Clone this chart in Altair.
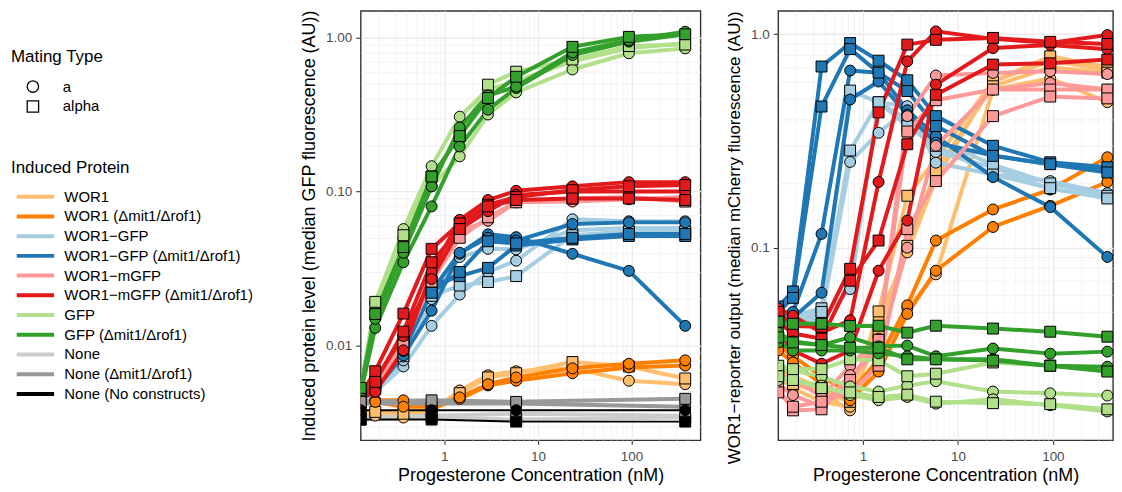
import altair as alt
import pandas as pd

N = None
# Progesterone concentrations (nM); first value sits on the left panel edge
CONC = [0.128, 0.183, 0.366, 0.732, 1.46, 2.93, 5.86, 23.4, 93.8, 375.0]

GROUPS = ["WOR1", "WOR1 (Δmit1/Δrof1)", "WOR1−GFP", "WOR1−GFP (Δmit1/Δrof1)",
          "WOR1−mGFP", "WOR1−mGFP (Δmit1/Δrof1)", "GFP", "GFP (Δmit1/Δrof1)",
          "None", "None (Δmit1/Δrof1)", "None (No constructs)"]
COLORS = ["#FDBF6F", "#FF7F00", "#A6CEE3", "#1F78B4", "#FB9A99", "#E31A1C",
          "#B2DF8A", "#33A02C", "#CCCCCC", "#999999", "#000000"]
MATING = ["a", "alpha"]

# ---------- Panel 1: induced protein level ----------
P1_WOR1 = {"a": [[0.0036, 0.0035, 0.0034, 0.0037, 0.0051, 0.0064, 0.0068, 0.0071, 0.0059, 0.0056]],
           "alpha": [[0.0037, 0.0037, 0.0036, 0.0038, 0.0049, 0.0062, 0.0066, 0.0078, 0.0073, 0.0061]]}
P1_WOR1_D = {"a": [[0.0043, 0.0044, 0.0044, 0.0039, 0.0045, 0.0055, 0.0059, 0.0066, 0.0072, 0.0074],
                   [0.0042, 0.0043, 0.0040, 0.0040, 0.0046, 0.0056, 0.0062, 0.0071, 0.0076, 0.0080]],
             "alpha": []}
P1_WGFP = {"a": [[0.0042, 0.0050, 0.0073, 0.0134, 0.0214, 0.0300, 0.0355, 0.066, 0.064, 0.064],
                 [0.0043, 0.0052, 0.0080, 0.0200, 0.0375, 0.0424, 0.042, 0.056, 0.058, 0.058]],
           "alpha": [[0.0043, 0.0052, 0.0085, 0.0210, 0.0245, 0.0258, 0.0282, 0.052, 0.055, 0.055]]}
P1_WGFP_D = {"a": [[0.0044, 0.0052, 0.0086, 0.0168, 0.0394, 0.0527, 0.0505, 0.0394, 0.0305, 0.0134],
                   [0.0045, 0.0055, 0.0092, 0.0225, 0.0400, 0.0500, 0.0480, 0.0615, 0.0630, 0.0630]],
             "alpha": [[0.0046, 0.0058, 0.0110, 0.0245, 0.0282, 0.0319, 0.0446, 0.0488, 0.0514, 0.0514],
                       [0.0045, 0.0056, 0.0100, 0.0220, 0.0300, 0.0475, 0.0460, 0.0500, 0.0530, 0.0530]]}
P1_MGFP = {"a": [[0.0042, 0.0054, 0.0107, 0.028, 0.055, 0.0645, 0.085, 0.086, 0.089, 0.092]],
           "alpha": [[0.0043, 0.0055, 0.0100, 0.026, 0.050, 0.068, 0.085, 0.090, 0.092, 0.086]]}
P1_MGFP_D = {"a": [[0.0045, 0.0050, 0.0093, 0.030, 0.0655, 0.088, 0.101, 0.108, 0.115, 0.115],
                   [0.0043, 0.0060, 0.0115, 0.027, 0.057, 0.0745, 0.095, 0.100, 0.100, 0.100]],
             "alpha": [[0.0048, 0.0068, 0.0161, 0.0424, 0.062, 0.082, 0.092, 0.102, 0.108, 0.110],
                       [0.0044, 0.0058, 0.0123, 0.0347, 0.057, 0.080, 0.088, 0.090, 0.090, 0.088]]}
P1_GFP = {"a": [[0.0050, 0.0190, 0.057, 0.146, 0.306, 0.46, 0.52, 0.70, 0.85, 0.92],
                [0.0048, 0.0170, 0.050, 0.108, 0.169, 0.316, 0.44, 0.62, 0.79, 0.85]],
          "alpha": [[0.0052, 0.0192, 0.052, 0.125, 0.23, 0.494, 0.60, 0.72, 0.88, 0.90]]}
P1_GFP_D = {"a": [[0.0049, 0.0130, 0.0347, 0.080, 0.196, 0.34, 0.47, 0.77, 0.94, 1.05],
                  [0.0051, 0.0149, 0.040, 0.108, 0.26, 0.42, 0.48, 0.80, 0.96, 1.09]],
            "alpha": [[0.0053, 0.0160, 0.0435, 0.125, 0.229, 0.405, 0.556, 0.87, 1.01, 1.05]]}
P1_NONE = {"a": [[0.0034, N, N, 0.0035, N, N, 0.0036, N, N, 0.0035]],
           "alpha": [[0.0033, N, N, 0.0034, N, N, 0.0033, N, N, 0.0034]]}
P1_NONE_D = {"a": [[0.0042, N, N, 0.0042, N, N, 0.0042, N, N, 0.0040]],
             "alpha": [[0.0043, N, N, 0.0044, N, N, 0.0043, N, N, 0.0045]]}
P1_NOC = {"a": [[0.0038, N, N, 0.0038, N, N, 0.0038, N, N, 0.0038]],
          "alpha": [[0.0033, N, N, 0.0033, N, N, 0.0032, N, N, 0.0032]]}

# ---------- Panel 2: WOR1-reporter output ----------
P2_WOR1 = {"a": [[0.026, 0.024, 0.021, 0.0173, 0.0465, 0.095, 0.209, 0.60, 0.75, 0.68],
                 [0.025, 0.022, 0.019, 0.018, 0.030, 0.052, 0.075, 0.55, 0.62, 0.48]],
           "alpha": [[0.027, 0.025, 0.022, 0.019, 0.0503, 0.175, 0.26, 0.60, 0.787, 0.70],
                     [0.025, 0.023, 0.021, 0.019, 0.040, 0.102, 0.23, 0.57, 0.70, 0.66]]}
P2_WOR1_D = {"a": [[0.035, 0.031, 0.025, 0.0208, 0.030, 0.0537, 0.108, 0.151, 0.187, 0.265],
                   [0.033, 0.029, 0.023, 0.0193, 0.0263, 0.049, 0.078, 0.125, 0.157, 0.203]],
             "alpha": []}
P2_WGFP = {"a": [[0.045, 0.046, 0.048, 0.252, 0.345, 0.443, 0.28, 0.238, 0.188, 0.173],
                 [0.043, 0.044, 0.046, 0.064, 0.479, 0.46, 0.25, 0.22, 0.205, 0.18]],
           "alpha": [[0.046, 0.048, 0.052, 0.544, 0.479, 0.40, 0.32, 0.245, 0.20, 0.175],
                     [0.044, 0.046, 0.050, 0.285, 0.48, 0.371, 0.30, 0.22, 0.19, 0.17]]}
P2_WGFP_D = {"a": [[0.048, 0.050, 0.116, 0.675, 0.66, 0.44, 0.333, 0.214, 0.155, 0.0905],
                   [0.045, 0.047, 0.0615, 0.494, 0.60, 0.42, 0.31, 0.27, 0.246, 0.23]],
             "alpha": [[0.053, 0.0624, 0.705, 0.908, 0.751, 0.608, 0.413, 0.30, 0.251, 0.238],
                       [0.050, 0.0582, 0.458, 0.851, 0.66, 0.541, 0.371, 0.269, 0.246, 0.225]]}
P2_MGFP = {"a": [[0.025, 0.0244, 0.020, 0.028, 0.0375, 0.413, 0.64, 0.658, 0.67, 0.65],
                 [0.023, 0.0204, 0.018, 0.0253, 0.0326, 0.10, 0.30, 0.55, 0.59, 0.55]],
           "alpha": [[0.022, 0.0173, 0.0175, 0.024, 0.037, 0.35, 0.49, 0.55, 0.55, 0.55],
                     [0.021, 0.018, 0.019, 0.021, 0.028, 0.122, 0.205, 0.413, 0.51, 0.50]]}
P2_MGFP_D = {"a": [[0.052, 0.048, 0.040, 0.0457, 0.203, 0.746, 1.03, 0.95, 0.91, 0.99],
                   [0.040, 0.033, 0.0286, 0.033, 0.078, 0.134, 0.58, 0.86, 0.89, 0.85]],
             "alpha": [[0.050, 0.043, 0.0426, 0.0796, 0.43, 0.893, 0.94, 0.96, 0.92, 0.90],
                       [0.045, 0.0396, 0.0375, 0.070, 0.108, 0.305, 0.52, 0.72, 0.73, 0.76]]}
P2_GFP = {"a": [[0.027, 0.0266, 0.0249, 0.0224, 0.0212, 0.0226, 0.0237, 0.0212, 0.0208, 0.0203],
                [0.024, 0.024, 0.0226, 0.0204, 0.0193, 0.020, 0.0186, 0.0195, 0.0183, 0.0171]],
          "alpha": [[0.028, 0.027, 0.027, 0.030, 0.0297, 0.025, 0.0257, 0.029, 0.028, 0.0265],
                    [0.025, 0.024, 0.022, 0.021, 0.020, 0.0205, 0.019, 0.0187, 0.0185, 0.0175]]}
P2_GFP_D = {"a": [[0.040, 0.0364, 0.035, 0.038, 0.0345, 0.0348, 0.031, 0.0337, 0.0319, 0.0326],
                  [0.036, 0.033, 0.033, 0.033, 0.032, 0.031, 0.030, 0.030, 0.028, 0.0277]],
            "alpha": [[0.045, 0.044, 0.044, 0.043, 0.0431, 0.040, 0.0431, 0.0418, 0.0404, 0.0383],
                      [0.038, 0.036, 0.035, 0.034, 0.034, 0.030, 0.030, 0.0296, 0.028, 0.0263]]}

# axis breaks / grid values
X_MAJOR = [1, 10, 100]
X_GRID = [0.2, 0.3, 0.4, 0.5, 0.6, 0.7, 0.8, 0.9, 1, 2, 3, 4, 5, 6, 7, 8, 9,
          10, 20, 30, 40, 50, 60, 70, 80, 90, 100, 200, 300, 400]
Y1_MAJOR = [0.01, 0.1, 1]
Y1_GRID = [0.003, 0.004, 0.005, 0.006, 0.007, 0.008, 0.009, 0.01, 0.02, 0.03, 0.04,
           0.05, 0.06, 0.07, 0.08, 0.09, 0.1, 0.2, 0.3, 0.4, 0.5, 0.6, 0.7, 0.8, 0.9, 1]
Y2_MAJOR = [0.1, 1]
Y2_GRID = [0.02, 0.03, 0.04, 0.05, 0.06, 0.07, 0.08, 0.09, 0.1, 0.2, 0.3, 0.4, 0.5,
           0.6, 0.7, 0.8, 0.9, 1]

PANEL1 = [P1_WOR1, P1_WOR1_D, P1_WGFP, P1_WGFP_D, P1_MGFP, P1_MGFP_D, P1_GFP, P1_GFP_D,
          P1_NONE, P1_NONE_D, P1_NOC]
PANEL2 = [P2_WOR1, P2_WOR1_D, P2_WGFP, P2_WGFP_D, P2_MGFP, P2_MGFP_D, P2_GFP, P2_GFP_D,
          {}, {}, {}]


def build(panel):
    rows = []
    for group, series in zip(GROUPS, panel):
        for mating in MATING:
            for k, vals in enumerate(series.get(mating, [])):
                sid = f"{group}|{mating}|{k}"
                for c, v in zip(CONC, vals):
                    if v is not None:
                        rows.append({"conc": c, "value": v, "group": group,
                                     "mating": mating, "series": sid})
    return pd.DataFrame(rows)


FONT = "Liberation Sans"
color_scale = alt.Scale(domain=GROUPS, range=COLORS)
shape_scale = alt.Scale(domain=MATING, range=["circle", "square"])

color_legend = alt.Legend(
    title="Induced Protein", orient="none", legendX=-351, legendY=149.5,
    symbolType="M-2.5,0H2.5", symbolSize=225, symbolStrokeWidth=4,
    symbolOffset=15, labelOffset=19.5, labelFontSize=15, titleFontSize=17,
    titleFontWeight="normal", titleColor="black", labelColor="black",
    titlePadding=10.5, rowPadding=1.8, labelLimit=400)
shape_legend = alt.Legend(
    title="Mating Type", orient="none", legendX=-351, legendY=38.5,
    symbolSize=130, symbolFillColor="white", symbolStrokeColor="black",
    symbolStrokeWidth=1.3, symbolOffset=14.5, labelOffset=22.5, labelFontSize=15,
    titleFontSize=17, titleFontWeight="normal", titleColor="black",
    labelColor="black", titlePadding=13, rowPadding=3)


def cond_num(majors, a, b):
    return {"condition": {"test": f"indexof({majors}, datum.value) >= 0", "value": a},
            "value": b}


def panel(df, xmax, ydomain, ygrid, ymajor, yfmt, ytitle, width, title_anchor, title_size):
    x = alt.X("conc:Q", scale=alt.Scale(type="log", domain=[0.128, xmax], nice=False),
              axis=alt.Axis(values=X_GRID, title="Progesterone Concentration (nM)",
                            labelExpr=f"indexof({X_MAJOR}, datum.value) >= 0 ? format(datum.value, 'd') : ''",
                            tickOpacity=cond_num(X_MAJOR, 1, 0),
                            gridWidth=cond_num(X_MAJOR, 1.3, 0.6),
                            labelOverlap=False, labelFlush=False, tickSize=4,
                            labelPadding=5, titlePadding=4))
    yaxis_kw = dict(values=ygrid, title=ytitle, titleFontSize=title_size,
                    labelExpr=f"indexof({ymajor}, datum.value) >= 0 ? format(datum.value, '{yfmt}') : ''",
                    tickOpacity=cond_num(ymajor, 1, 0),
                    gridWidth=cond_num(ymajor, 1.3, 0.6),
                    labelOverlap=False, labelFlush=False, labelPadding=4, titlePadding=7)
    if title_anchor:
        yaxis_kw["titleAnchor"] = title_anchor
    y = alt.Y("value:Q", scale=alt.Scale(type="log", domain=ydomain, nice=False),
              axis=alt.Axis(**yaxis_kw))
    base = alt.Chart(df)
    lines = base.mark_line(clip=True, strokeJoin="round").encode(
        x=x, y=y,
        color=alt.Color("group:N", scale=color_scale, legend=color_legend),
        detail="series:N",
        strokeWidth=alt.condition(alt.datum.group == "None (No constructs)",
                                  alt.value(2), alt.value(4)),
    )
    points = base.mark_point(filled=True, size=120, stroke="black", strokeWidth=1,
                             opacity=1, clip=True).encode(
        x=x, y=y,
        fill=alt.Fill("group:N", scale=color_scale, legend=None),
        shape=alt.Shape("mating:N", scale=shape_scale, legend=shape_legend),
    )
    return alt.layer(lines, points).properties(width=width, height=431)


p1 = panel(build(PANEL1), 546, [0.00242, 1.49], Y1_GRID, Y1_MAJOR, ".2f",
           "Induced protein level (median GFP fluorescence (AU))", 341, None, 18)
p2 = panel(build(PANEL2), 430, [0.01253, 1.285], Y2_GRID, Y2_MAJOR, ".1f",
           "WOR1−reporter output (median mCherry fluorescence (AU))", 336, "end", 17)

chart = (alt.hconcat(p1, p2, spacing=23)
         .resolve_scale(x="independent", y="independent", color="shared",
                        fill="shared", shape="shared")
         .properties(padding={"left": 3, "top": 0, "right": 0, "bottom": 0})
         .configure(font=FONT)
         .configure_view(stroke="#333333", strokeWidth=1.4)
         .configure_axis(domain=False, tickColor="#333333", tickSize=5, tickWidth=1.1,
                         labelColor="#4d4d4d", labelFontSize=13.5, titleFontSize=18,
                         titleFontWeight="normal", titleColor="black",
                         gridColor="#ebebeb"))

chart.save("out.html", embed_options={"renderer": "svg", "actions": False})
